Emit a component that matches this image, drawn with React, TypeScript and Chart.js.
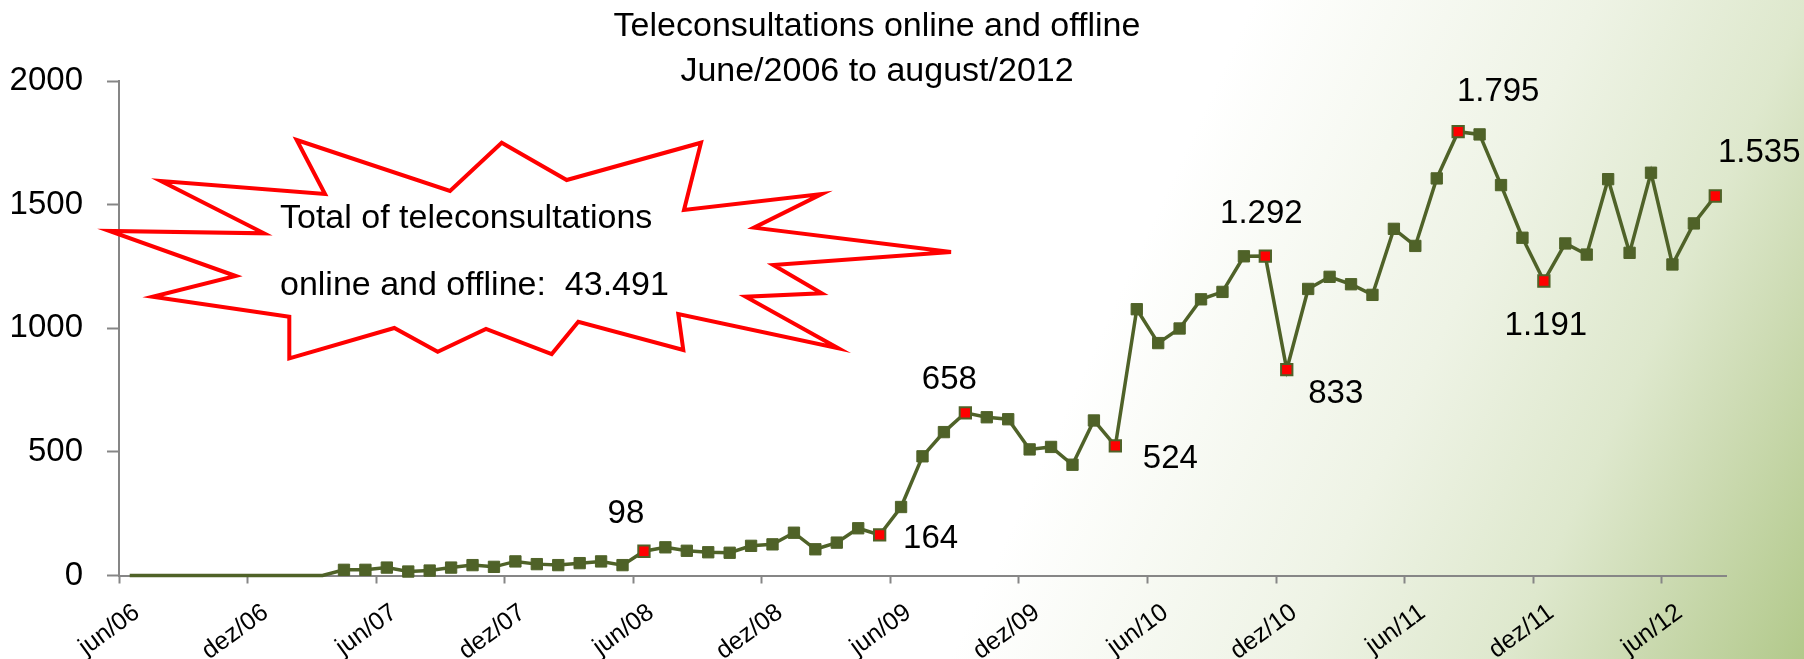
import React, { useEffect, useRef } from "react";
import { Chart, registerables } from "chart.js";
Chart.register(...registerables);

const categories = [
  "jun/06", "jul/06", "ago/06", "set/06", "out/06", "nov/06", "dez/06",
  "jan/07", "fev/07", "mar/07", "abr/07", "mai/07", "jun/07", "jul/07", "ago/07", "set/07", "out/07", "nov/07", "dez/07",
  "jan/08", "fev/08", "mar/08", "abr/08", "mai/08", "jun/08", "jul/08", "ago/08", "set/08", "out/08", "nov/08", "dez/08",
  "jan/09", "fev/09", "mar/09", "abr/09", "mai/09", "jun/09", "jul/09", "ago/09", "set/09", "out/09", "nov/09", "dez/09",
  "jan/10", "fev/10", "mar/10", "abr/10", "mai/10", "jun/10", "jul/10", "ago/10", "set/10", "out/10", "nov/10", "dez/10",
  "jan/11", "fev/11", "mar/11", "abr/11", "mai/11", "jun/11", "jul/11", "ago/11", "set/11", "out/11", "nov/11", "dez/11",
  "jan/12", "fev/12", "mar/12", "abr/12", "mai/12", "jun/12", "jul/12", "ago/12",
];

const consultations2006 = [0, 0, 0, 0, 0, 0, 0];
const consultations2007 = [0, 0, 0, 23, 23, 32, 16, 20, 32, 42, 35, 57];
const consultations2008 = [46, 42, 50, 57, 42, 98, 114, 100, 94, 92, 120, 126];
const consultations2009 = [173, 106, 133, 191, 164, 277, 482, 580, 658, 640, 632, 510];
const consultations2010 = [520, 448, 627, 524, 1077, 940, 999, 1117, 1147, 1291, 1292, 833];
const consultations2011 = [1159, 1208, 1178, 1135, 1402, 1333, 1606, 1795, 1784, 1579, 1366, 1191];
const consultations2012 = [1343, 1298, 1603, 1305, 1629, 1258, 1424, 1535];

const consultations = [
  ...consultations2006, ...consultations2007, ...consultations2008, ...consultations2009,
  ...consultations2010, ...consultations2011, ...consultations2012,
];

// x tick labels shown (every 6 months)
const xTickLabels = ["jun/06", "dez/06", "jun/07", "dez/07", "jun/08", "dez/08", "jun/09", "dez/09", "jun/10", "dez/10", "jun/11", "dez/11", "jun/12"];

// months whose value is labelled (red markers)
const highlightedMonths = ["jun/08", "mai/09", "set/09", "abr/10", "nov/10", "dez/10", "ago/11", "dez/11", "ago/12"];
// label offsets (px) from the marker: [dx, dy to baseline]
const labelOffsets = [[-18, -28], [51, 13], [-16, -24], [55, 22], [-4, -33], [49, 33], [40, -31], [2, 54], [44, -34]];

const yTickValues = [0, 500, 1000, 1500, 2000];
const titleLines = ["Teleconsultations online and offline", "June/2006 to august/2012"];
const calloutLines = ["Total of teleconsultations", "online and offline:  43.491"];

const FONT = '"Liberation Sans", Arial, sans-serif';
const LINE = "#4f6228";
const GRAY = "#868686";

const fmt = (v: number) => String(v).replace(/\B(?=(\d{3})+(?!\d))/g, ".");

// callout star outline (decoration)
const starPts = [
  [296.7, 140], [450, 191], [501.7, 142.7], [566.7, 180], [701, 142.7], [684, 210], [821.7, 194],
  [754, 227.7], [951, 252], [773.3, 265], [821.7, 293.3], [745.7, 296.7], [838.3, 348.3], [678.3, 314],
  [683.3, 350], [578.3, 321.7], [551.7, 354], [486, 329], [437.7, 351.7], [394.3, 328], [289.3, 358.3],
  [289.3, 316.7], [152.7, 296.7], [235.7, 276], [109.3, 231], [264, 233.3], [161, 181], [325, 194],
];

const bgPlugin = {
  id: "bgGradient",
  beforeDraw(chart: any) {
    const { ctx, width, height } = chart;
    const g = ctx.createLinearGradient(1100, 334, 1804, 659);
    g.addColorStop(0, "#ffffff");
    g.addColorStop(0.4, "#eef3e5");
    g.addColorStop(0.65, "#dee8cd");
    g.addColorStop(0.78, "#cedcb5");
    g.addColorStop(1, "#b2c98b");
    ctx.save();
    ctx.fillStyle = g;
    ctx.fillRect(0, 0, width, height);
    ctx.restore();
  },
};

const overlayPlugin = {
  id: "overlay",
  afterDraw(chart: any) {
    const { ctx } = chart;
    const xScale = chart.scales.x;
    ctx.save();
    // x tick labels (rotated), placed on the category centres of the x scale
    ctx.fillStyle = "#000";
    ctx.font = `25px ${FONT}`;
    ctx.textAlign = "right";
    ctx.textBaseline = "top";
    xTickLabels.forEach((lab) => {
      const px = xScale.getPixelForValue(categories.indexOf(lab));
      ctx.save();
      ctx.translate(px, xScale.top + 24.5);
      ctx.rotate((-36 * Math.PI) / 180);
      ctx.fillText(lab, 0, 0);
      ctx.restore();
    });

    // title
    ctx.font = `34px ${FONT}`;
    ctx.textAlign = "center";
    ctx.textBaseline = "alphabetic";
    ctx.fillText(titleLines[0], 877, 36);
    ctx.fillText(titleLines[1], 877, 81);

    // star callout
    ctx.beginPath();
    starPts.forEach((p, i) => (i === 0 ? ctx.moveTo(p[0], p[1]) : ctx.lineTo(p[0], p[1])));
    ctx.closePath();
    ctx.fillStyle = "#ffffff";
    ctx.fill();
    ctx.lineWidth = 4;
    ctx.lineJoin = "miter";
    ctx.strokeStyle = "#ff0000";
    ctx.stroke();
    ctx.fillStyle = "#000";
    ctx.font = `34px ${FONT}`;
    ctx.textAlign = "left";
    ctx.fillText(calloutLines[0], 280, 228);
    ctx.fillText(calloutLines[1], 280, 295);

    // data labels
    const meta = chart.getDatasetMeta(0);
    ctx.font = `33px ${FONT}`;
    ctx.textAlign = "center";
    highlightedMonths.forEach((m, k) => {
      const i = categories.indexOf(m);
      const pt = meta.data[i];
      ctx.fillText(fmt(consultations[i]), pt.x + labelOffsets[k][0], pt.y + labelOffsets[k][1]);
    });
    ctx.restore();
  },
};

export default function App() {
  const ref = useRef<HTMLCanvasElement>(null);
  useEffect(() => {
    document.body.style.margin = "0";
    const hl = new Set(highlightedMonths.map((m) => categories.indexOf(m)));
    const firstNonZero = consultations.findIndex((v) => v > 0);
    const chart = new Chart(ref.current as HTMLCanvasElement, {
      type: "line",
      data: {
        labels: categories,
        datasets: [
          {
            data: consultations,
            borderColor: LINE,
            borderWidth: 3.5,
            tension: 0,
            pointStyle: "rect",
            pointRadius: consultations.map((_, i) => (i < firstNonZero ? 0 : 8)),
            pointBackgroundColor: consultations.map((_, i) => (hl.has(i) ? "#ff0000" : LINE)),
            pointBorderColor: LINE,
            pointBorderWidth: consultations.map((_, i) => (hl.has(i) ? 2 : 1)),
            clip: false as any,
          },
        ],
      },
      options: {
        responsive: false,
        animation: false,
        layout: { padding: { top: 81, right: 78, left: 0, bottom: 0 } },
        plugins: { legend: { display: false }, tooltip: { enabled: false }, title: { display: false } },
        scales: {
          x: {
            offset: true,
            afterFit: (s: any) => { s.height = 83.5; },
            grid: {
              offset: true,
              drawOnChartArea: false,
              drawTicks: true,
              tickLength: 8,
              tickWidth: 2,
              color: (c: any) => (c.index % 6 === 0 ? GRAY : "rgba(0,0,0,0)"),
              tickColor: (c: any) => (c.index % 6 === 0 ? GRAY : "rgba(0,0,0,0)"),
            },
            border: { display: true, color: GRAY, width: 2 },
            ticks: { display: false, autoSkip: false },
          },
          y: {
            min: yTickValues[0],
            max: yTickValues[yTickValues.length - 1],
            afterFit: (s: any) => { s.width = 119; },
            afterBuildTicks: (s: any) => { s.ticks = yTickValues.map((v) => ({ value: v })); },
            grid: { drawOnChartArea: false, drawTicks: true, tickLength: 12, color: GRAY, tickWidth: 2 },
            border: { display: true, color: GRAY, width: 2 },
            ticks: {
              padding: 24,
              color: "#000",
              font: { family: FONT, size: 33 },
              callback: (v: any) => String(v),
            },
          },
        },
      },
      plugins: [bgPlugin, overlayPlugin],
    });
    return () => chart.destroy();
  }, []);
  return (
    <div style={{ width: 1804, height: 659 }}>
      <canvas ref={ref} width={1804} height={659} style={{ display: "block" }} />
    </div>
  );
}
